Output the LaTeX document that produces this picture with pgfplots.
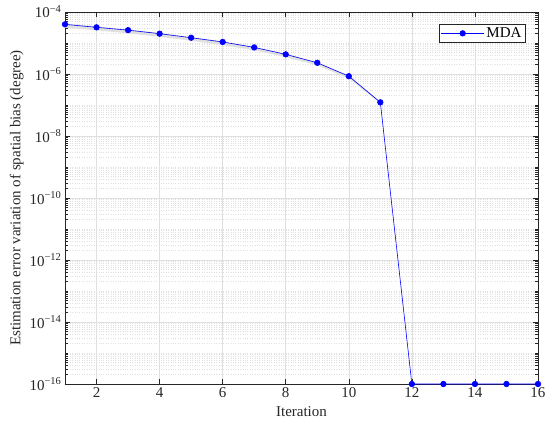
\documentclass[border=0pt]{standalone}
\usepackage{fontspec}
\setmainfont{Liberation Serif}
\usepackage{pgfplots}
\pgfplotsset{compat=1.18}
\xdef\myminor{1e-16}
\foreach \e in {-16,...,-5}{\foreach \m in {2,...,9}{\xdef\myminor{\myminor,\m e\e}}\pgfmathtruncatemacro\ee{\e+1}\xdef\myminor{\myminor,1e\ee}}
\definecolor{gridc}{RGB}{224,224,224}
\definecolor{axc}{RGB}{38,38,38}
\begin{document}
\begin{tikzpicture}
\useasboundingbox (0,0) rectangle (550pt,428pt);
\begin{axis}[
  at={(65pt,44pt)}, anchor=south west,
  scale only axis, width=473pt, height=372pt,
  ymode=log,
  xmin=1, xmax=16, ymin=1e-16, ymax=1e-4,
  xtick={2,4,...,16},
  ytick={1e-16,1e-14,1e-12,1e-10,1e-8,1e-6,1e-4},
  yticklabels={10\textsuperscript{−16},10\textsuperscript{−14},10\textsuperscript{−12},10\textsuperscript{−10},10\textsuperscript{−8},10\textsuperscript{−6},10\textsuperscript{−4}},
  minor ytick/.expanded={\myminor},
  grid=both,
  major grid style={gridc, line width=0.5pt},
  minor grid style={gridc, dotted, line width=0.5pt},
  axis line style={axc, line width=0.5pt},
  tick style={axc, line width=0.5pt},
  major tick length=5pt, minor tick length=3pt,
  tick align=inside,
  ticklabel style={font=\fontsize{15}{17}\selectfont, text=axc},
  /pgf/number format/assume math mode=true,
  xlabel={Iteration},
  ylabel={Estimation error variation of spatial bias (degree)},
  label style={font=\fontsize{15}{17}\selectfont, text=axc},
  xlabel style={yshift=-2pt},
  ylabel style={yshift=-1pt},
  legend style={at={(0.973,0.968)}, anchor=north east, font=\fontsize{15}{17}\selectfont, draw=axc, line width=0.5pt, inner sep=1.5pt, legend cell align=left},
  legend image code/.code={\draw[#1] (0pt,0pt) -- (43pt,0pt); \draw[#1,mark repeat=1] plot coordinates {(21.5pt,0pt)};},
]
\addplot[fill=black!12, draw=none, forget plot] coordinates {
(1,4.3e-5) (2,3.45e-5) (3,2.75e-5) (4,2.1e-5) (5,1.55e-5) (6,1.13e-5) (7,7.5e-6) (8,4.5e-6) (9,2.4e-6) (10,8.9e-7) (11,1.27e-7)
(11,1.12e-7) (10,7.2e-7) (9,1.9e-6) (8,3.5e-6) (7,5.8e-6) (6,8.6e-6) (5,1.18e-5) (4,1.58e-5) (3,2.05e-5) (2,2.55e-5) (1,3.1e-5)
} -- cycle;
\addplot[blue, line width=0.6pt, mark=*, mark size=2.8pt, mark options={fill=blue, draw=blue}] coordinates {
(1,4.0e-5) (2,3.2e-5) (3,2.6e-5) (4,2.0e-5) (5,1.48e-5) (6,1.08e-5) (7,7.2e-6) (8,4.3e-6) (9,2.3e-6) (10,8.5e-7) (11,1.22e-7)
(12,1e-16) (13,1e-16) (14,1e-16) (15,1e-16) (16,1e-16)
};
\addlegendentry{MDA}
\end{axis}
\end{tikzpicture}
\end{document}
